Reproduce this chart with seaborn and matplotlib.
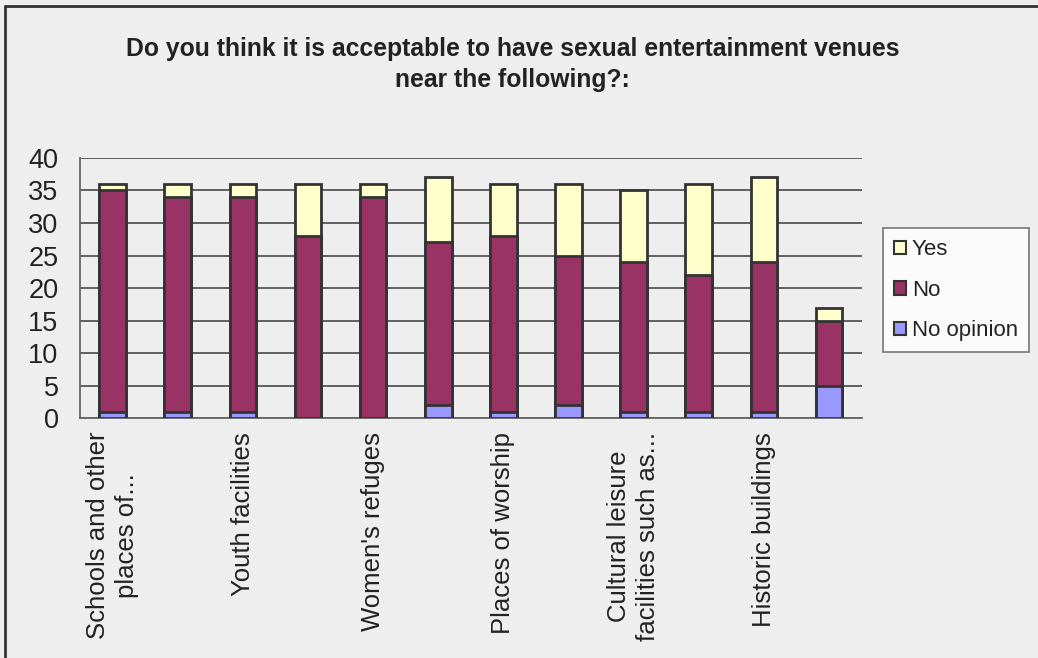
import numpy as np
import pandas as pd
import matplotlib
matplotlib.use("Agg")
import matplotlib.pyplot as plt
from matplotlib.patches import Patch
import seaborn as sns

# Datos
categories = ["Schools and other\nplaces of...", "cat2", "Youth facilities", "cat4",
              "Women's refuges", "cat6", "Places of worship", "cat8",
              "Cultural leisure\nfacilities such as...", "cat10", "Historic buildings", "cat12"]
tick_labels = ["Schools and other\nplaces of...", "", "Youth facilities", "",
               "Women's refuges", "", "Places of worship", "",
               "Cultural leisure\nfacilities such as...", "", "Historic buildings", ""]
no_opinion = [1, 1, 1, 0, 0, 2, 1, 2, 1, 1, 1, 5]
no = [34, 33, 33, 28, 34, 25, 27, 23, 23, 21, 23, 10]
yes = [1, 2, 2, 8, 2, 10, 8, 11, 11, 14, 13, 2]
title = "Do you think it is acceptable to have sexual entertainment venues\nnear the following?:"

colors = {"Yes": "#ffffcc", "No": "#993366", "No opinion": "#9999ff"}
bg = "#eeeeee"

df = pd.DataFrame({"cat": categories, "noop": no_opinion, "no": no, "yes": yes})
df["lvl_no"] = df["noop"] + df["no"]
df["lvl_yes"] = df["lvl_no"] + df["yes"]

sns.set_style("white")
plt.rcParams["font.family"] = ["Liberation Sans", "DejaVu Sans"]

fig = plt.figure(figsize=(10.38, 6.58), dpi=100, facecolor=bg)
ax = fig.add_axes([0.0771, 0.3647, 0.753, 0.3952])
ax.set_facecolor(bg)

kw = dict(x="cat", order=categories, width=0.41, edgecolor="#333333",
          linewidth=2.0, ax=ax, zorder=3)
sns.barplot(data=df, y="lvl_yes", color=colors["Yes"], saturation=1, **kw)
sns.barplot(data=df, y="lvl_no", color=colors["No"], saturation=1, **kw)
sns.barplot(data=df, y="noop", color=colors["No opinion"], saturation=1, **kw)

ax.set_ylim(0, 40)
ax.set_xlim(-0.5, len(categories) - 0.5)
ax.set_yticks(range(0, 41, 5))
ax.yaxis.grid(True, color="#555555", linewidth=1.3, zorder=0)
ax.set_axisbelow(True)
for s in ["top", "right"]:
    ax.spines[s].set_visible(False)
for s in ["left", "bottom"]:
    ax.spines[s].set_color("#666666")
    ax.spines[s].set_linewidth(1.3)

ax.set_xticks(range(len(categories)))
ax.set_xticklabels(tick_labels, rotation=90, fontsize=18.5, color="#222222",
                   va="top", ha="center", multialignment="center",
                   linespacing=1.25)
ax.set_xticks(np.arange(-0.5, len(categories), 1), minor=True)
ax.tick_params(axis="x", which="major", length=0, pad=10)
ax.tick_params(axis="x", which="minor", length=6, width=1.3, color="#666666",
               direction="out")
ax.tick_params(axis="y", length=7.5, width=1.3, color="#666666", direction="out",
               labelsize=19.5, labelcolor="#222222", pad=8)
ax.set_xlabel("")
ax.set_ylabel("")

fig.text(0.494, 0.902, title, ha="center", va="center", fontsize=17.8,
         fontweight="bold", color="#222222", linespacing=1.35,
         family=["Liberation Sans Narrow", "Liberation Sans", "DejaVu Sans"])

handles = [Patch(facecolor=colors[k], edgecolor="#333333", linewidth=1.5, label=k)
           for k in ["Yes", "No", "No opinion"]]
leg = fig.legend(handles=handles, loc="upper left",
                 bbox_to_anchor=(883 / 1038, 1 - 228 / 658),
                 frameon=True, fancybox=False, fontsize=16,
                 handlelength=0.55, handleheight=0.55, handletextpad=0.25,
                 labelspacing=0.88, borderpad=0.5, borderaxespad=0)
leg.get_frame().set_edgecolor("#555555")
leg.get_frame().set_facecolor("white")
leg.get_frame().set_linewidth(1.2)
for t in leg.get_texts():
    t.set_color("#222222")

# marco del gráfico (solo arriba e izquierda visibles)
fig.add_artist(plt.Line2D([5 / 1038, 5 / 1038], [0, 1 - 6 / 658],
                          color="#333333", linewidth=2))
fig.add_artist(plt.Line2D([5 / 1038, 1], [1 - 6 / 658, 1 - 6 / 658],
                          color="#333333", linewidth=2))

fig.savefig("out.png", dpi=100, facecolor=bg)
